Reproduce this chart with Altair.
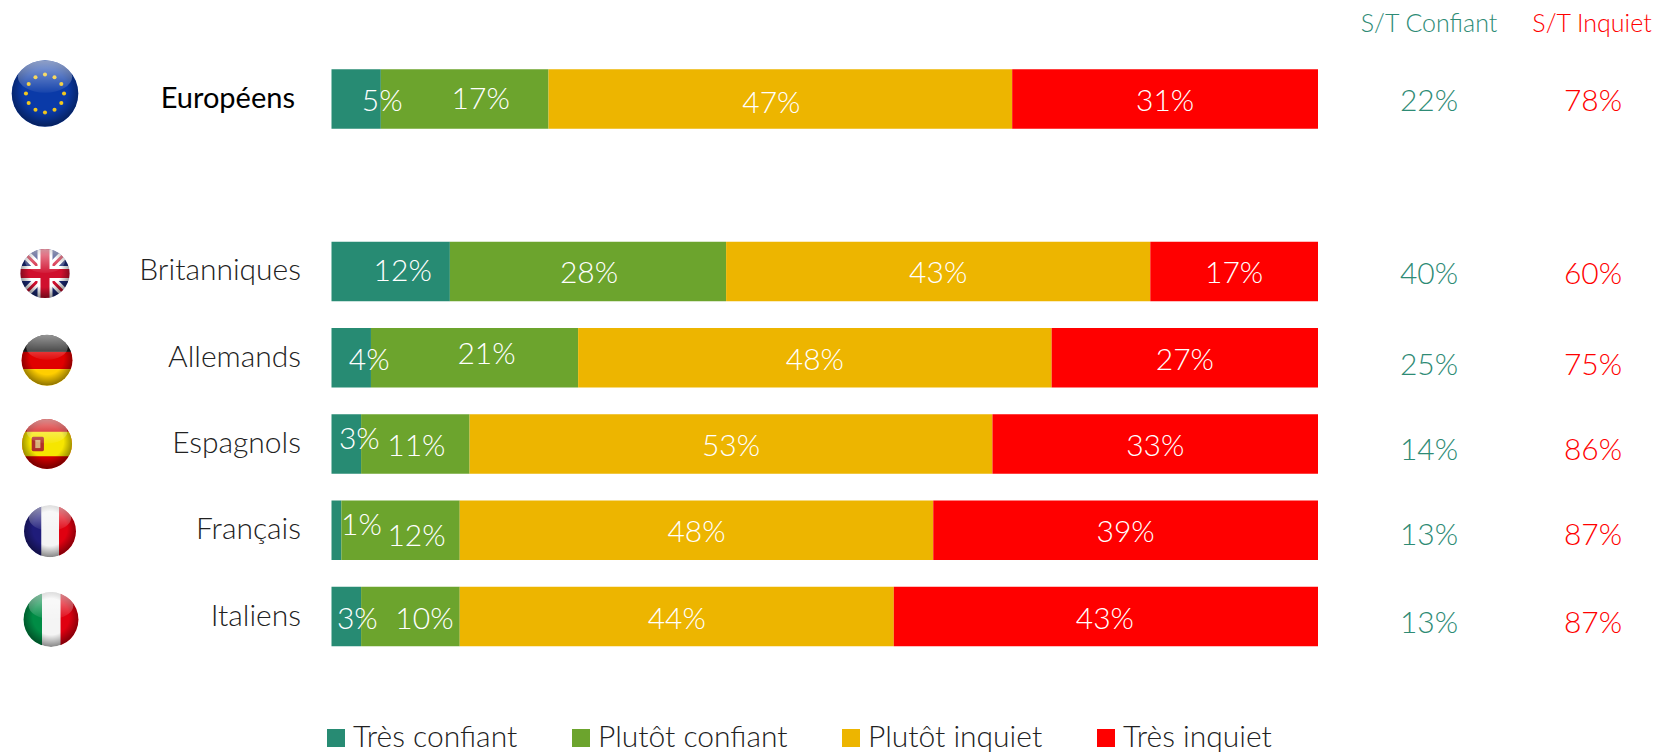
import base64
import altair as alt
import pandas as pd

groups = ["Européens", "Britanniques", "Allemands", "Espagnols", "Français", "Italiens"]
series = ["Très confiant", "Plutôt confiant", "Plutôt inquiet", "Très inquiet"]
colors = ["#278B73", "#6CA42D", "#EDB500", "#FF0000"]
tres_confiant = [5, 12, 4, 3, 1, 3]
plutot_confiant = [17, 28, 21, 11, 12, 10]
plutot_inquiet = [47, 43, 48, 53, 48, 44]
tres_inquiet = [31, 17, 27, 33, 39, 43]
st_confiant = [22, 40, 25, 14, 13, 13]
st_inquiet = [78, 60, 75, 86, 87, 87]

# hand placement of the labels, as in the reference (pixels)
label_dx = [[26, 16, -9, 0], [12, 1, 0, 0], [18, 12, 0, 0], [13, 1, 0, 0], [25, 16, 0, 0], [11, 14, 0, -1]]
label_dy = [[2, 0, 4, 2], [-1, 1, 1, 1], [2, -4, 2, 2], [-5, 2, 2, 2], [-5, 6, 2, 2], [2, 2, 2, 2]]
total_dy = [2, 2, 7, 6, 5, 6]
HALF_BAND = 31  # an encoded yOffset starts from the top of the band
PX_PER_POINT = 9.865

FONT = "Lato"
TEAL = "#2E8B75"
RED = "#FF0000"

rows = []
table = [tres_confiant, plutot_confiant, plutot_inquiet, tres_inquiet]
for g, name in enumerate(groups):
    start = 0
    for s, sname in enumerate(series):
        v = table[s][g]
        rows.append(dict(group=name, serie=sname, start=start, end=start + v,
                         mid=start + v / 2 + label_dx[g][s] / PX_PER_POINT,
                         label=f"{v}%", dy=label_dy[g][s] + HALF_BAND))
        start += v
df = pd.DataFrame(rows)
totals = pd.DataFrame(dict(group=groups, conf=[f"{v}%" for v in st_confiant],
                           inq=[f"{v}%" for v in st_inquiet], dy=[d + HALF_BAND for d in total_dy]))

y_domain = [groups[0], " "] + groups[1:]
y_scale = alt.Scale(domain=y_domain, range=[34.5, 665], paddingInner=0.31, paddingOuter=0.31)
Y = alt.Y("group:N", axis=None, scale=y_scale)
xs = alt.Scale(domain=[0, 100], range=[323.5, 1310])

bars = alt.Chart(df).mark_bar().encode(
    x=alt.X("start:Q", scale=xs, axis=None),
    x2="end:Q",
    y=Y,
    color=alt.Color("serie:N", scale=alt.Scale(domain=series, range=colors),
                    legend=alt.Legend(orient="none", legendX=313, legendY=715, direction="horizontal", columns=4,
                                      title=None, symbolType="square", symbolSize=324, symbolStrokeWidth=0,
                                      symbolOpacity=1, labelFont=FONT, labelFontSize=30, labelFontWeight=300,
                                      labelColor="#222222", columnPadding=48, labelOffset=2, labelLimit=300,
                                      gridAlign="none")),
)
labels = alt.Chart(df).mark_text(font=FONT, fontSize=30, fontWeight=300, color="white", baseline="middle").encode(
    x=alt.X("mid:Q", scale=xs, axis=None),
    y=Y,
    yOffset=alt.YOffset("dy:Q", scale=None),
    text="label:N",
)
name_others = alt.Chart(totals[1:]).mark_text(font=FONT, fontSize=30, fontWeight=300, color="#222222",
                                              align="right", baseline="middle").encode(
    x=alt.value(293), y=Y, text="group:N")
name_eu = alt.Chart(totals[:1]).mark_text(font=FONT, fontSize=29, fontWeight=400, color="black",
                                          align="right", baseline="middle").encode(
    x=alt.value(287), y=Y, text="group:N")
conf = alt.Chart(totals).mark_text(font=FONT, fontSize=30, fontWeight=300, color=TEAL, baseline="middle").encode(
    x=alt.value(1421), y=Y, yOffset=alt.YOffset("dy:Q", scale=None), text="conf:N")
inq = alt.Chart(totals).mark_text(font=FONT, fontSize=30, fontWeight=300, color=RED, baseline="middle").encode(
    x=alt.value(1585), y=Y, yOffset=alt.YOffset("dy:Q", scale=None), text="inq:N")
head = pd.DataFrame(dict(t=["S/T Confiant"]))
head1 = alt.Chart(head).mark_text(font=FONT, fontSize=25, fontWeight=300, color=TEAL, baseline="middle").encode(
    x=alt.value(1421), y=alt.value(16), text="t:N")
head2 = alt.Chart(pd.DataFrame(dict(t=["S/T Inquiet"]))).mark_text(font=FONT, fontSize=25, fontWeight=300, color=RED,
                                                                  baseline="middle").encode(
    x=alt.value(1584), y=alt.value(16), text="t:N")


def flag(body):
    svg = f'''<svg xmlns="http://www.w3.org/2000/svg" viewBox="0 0 100 100" width="200" height="200">
<defs><clipPath id="c"><circle cx="50" cy="50" r="49"/></clipPath>
<radialGradient id="s" cx="50%" cy="45%" r="55%"><stop offset="60%" stop-color="#000" stop-opacity="0"/><stop offset="100%" stop-color="#000" stop-opacity=".45"/></radialGradient>
<linearGradient id="g" x1="0" y1="0" x2="0" y2="1"><stop offset="0" stop-color="#fff" stop-opacity=".55"/><stop offset="1" stop-color="#fff" stop-opacity=".05"/></linearGradient></defs>
<g clip-path="url(#c)">{body}<circle cx="50" cy="50" r="49" fill="url(#s)"/><ellipse cx="50" cy="25" rx="40" ry="24" fill="url(#g)"/></g></svg>'''
    return "data:image/svg+xml;base64," + base64.b64encode(svg.encode()).decode()


eu_stars = "".join(
    f'<circle cx="{x}" cy="{y}" r="3" fill="#F2C81E"/>'
    for x, y in [(50, 22), (64, 26), (74, 36), (78, 50), (74, 64), (64, 74), (50, 78), (36, 74), (26, 64), (22, 50), (26, 36), (36, 26)])
flags = {
    "Européens": (flag('<rect width="100" height="100" fill="#0A3AA8"/>' + eu_stars), 37, -5.5, 68),
    "Britanniques": (flag('<rect width="100" height="100" fill="#1B2A78"/>'
                          '<path d="M0 0L100 100M100 0L0 100" stroke="#fff" stroke-width="18"/>'
                          '<path d="M0 0L100 100M100 0L0 100" stroke="#D0102E" stroke-width="6"/>'
                          '<path d="M50 0V100M0 50H100" stroke="#fff" stroke-width="30"/>'
                          '<path d="M50 0V100M0 50H100" stroke="#D0102E" stroke-width="18"/>'), 37, 2, 50),
    "Allemands": (flag('<rect width="100" height="34" fill="#1A1A1A"/><rect y="34" width="100" height="33" fill="#E00000"/>'
                       '<rect y="67" width="100" height="33" fill="#FFCE00"/>'), 39, 2.5, 52),
    "Espagnols": (flag('<rect width="100" height="100" fill="#D00000"/><rect y="26" width="100" height="48" fill="#F6E600"/>'
                       '<rect x="20" y="36" width="24" height="28" rx="3" fill="#B0302A"/><rect x="27" y="42" width="10" height="16" fill="#D9B37A"/>'), 39, 0, 51),
    "Français": (flag('<rect width="34" height="100" fill="#1F1C7A"/><rect x="34" width="33" height="100" fill="#F4F4F4"/>'
                      '<rect x="67" width="33" height="100" fill="#E00010"/>'), 42, 1, 53),
    "Italiens": (flag('<rect width="34" height="100" fill="#008C45"/><rect x="34" width="33" height="100" fill="#F4F4F4"/>'
                      '<rect x="67" width="33" height="100" fill="#E00010"/>'), 43, 3, 56),
}
flag_layers = []
for name, (url, cx, dy, size) in flags.items():
    d = pd.DataFrame(dict(group=[name], url=[url]))
    flag_layers.append(
        alt.Chart(d).mark_image(width=size, height=size, yOffset=dy, clip=False).encode(
            x=alt.value(cx), y=Y, url="url:N"))

chart = alt.layer(bars, labels, name_others, name_eu, conf, inq, head1, head2, *flag_layers).properties(
    width=1656, height=746, padding=0, autosize=alt.AutoSizeParams(type="none"),
    background="white",
).configure_view(stroke=None)
chart.save("out.html", embed_options={"renderer": "svg", "actions": False})
